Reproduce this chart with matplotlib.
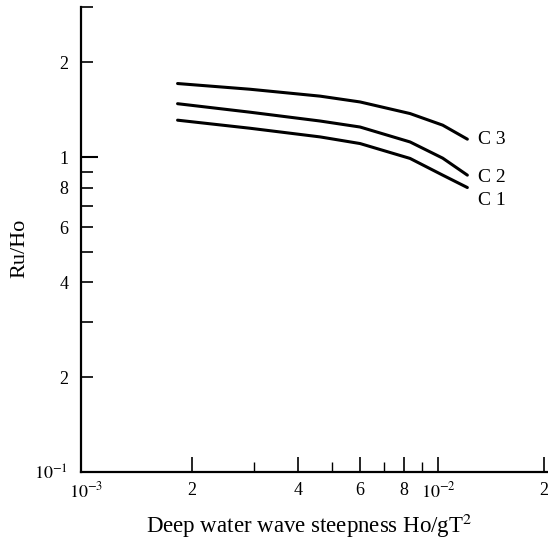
import matplotlib
matplotlib.use("Agg")
import matplotlib.pyplot as plt
from matplotlib.ticker import FixedLocator, FixedFormatter, NullFormatter

plt.rcParams["font.family"] = ["Liberation Serif", "DejaVu Serif"]
plt.rcParams["mathtext.fontset"] = "stix"

steepness = [0.00182, 0.00292, 0.00462, 0.0060, 0.00832, 0.0103, 0.0121]
c3 = [1.714, 1.644, 1.563, 1.498, 1.376, 1.264, 1.141]
c2 = [1.479, 1.390, 1.303, 1.247, 1.118, 0.993, 0.877]
c1 = [1.311, 1.236, 1.160, 1.105, 0.991, 0.877, 0.801]
curve_names = ["C 3", "C 2", "C 1"]

x_major = [0.001, 0.002, 0.004, 0.006, 0.008, 0.01, 0.02]
x_major_labels = ["$10^{-3}$", "2", "4", "6", "8", "$10^{-2}$", "2"]
x_minor = [0.003, 0.005, 0.007, 0.009]

y_major = [1.0]
y_major_labels = ["1"]
y_minor = [0.1, 0.2, 0.3, 0.4, 0.5, 0.6, 0.7, 0.8, 0.9, 2.0, 3.0]
y_minor_labels = ["$10^{-1}$", "2", "", "4", "", "6", "", "8", "", "2", ""]

fig = plt.figure(figsize=(5.48, 5.47), dpi=100)
ax = fig.add_axes([81 / 548, 75 / 547, 467 / 548, 465 / 547])
ax.set_xscale("log")
ax.set_yscale("log")

for vals in (c3, c2, c1):
    ax.plot(steepness, vals, color="black", lw=2.2,
            solid_capstyle="round", solid_joinstyle="round")

offsets = [(8, 0), (8, -2), (8, -9)]
for name, vals, off in zip(curve_names, (c3, c2, c1), offsets):
    ax.annotate(name, xy=(steepness[-1], vals[-1]), xytext=off,
                textcoords="offset points", fontsize=14, va="center", ha="left")

ax.set_xlim(0.000968, 0.0205)
ax.set_ylim(0.1, 3.0)

ax.xaxis.set_major_locator(FixedLocator(x_major))
ax.xaxis.set_major_formatter(FixedFormatter(x_major_labels))
ax.xaxis.set_minor_locator(FixedLocator(x_minor))
ax.xaxis.set_minor_formatter(NullFormatter())

ax.yaxis.set_major_locator(FixedLocator(y_major))
ax.yaxis.set_major_formatter(FixedFormatter(y_major_labels))
ax.yaxis.set_minor_locator(FixedLocator(y_minor))
ax.yaxis.set_minor_formatter(FixedFormatter(y_minor_labels))

ax.tick_params(axis="x", which="major", direction="in", length=11, width=1.2,
               pad=7, labelsize=13)
ax.tick_params(axis="x", which="minor", direction="in", length=7, width=1.0)
ax.tick_params(axis="y", which="major", direction="in", length=12, width=1.5,
               pad=9, labelsize=13)
ax.tick_params(axis="y", which="minor", direction="in", length=8.5, width=1.2,
               pad=9, labelsize=13)

# no tick mark at the 10^-3 end, only its label
ax.xaxis.get_major_ticks()[0].tick1line.set_visible(False)

for side in ("top", "right"):
    ax.spines[side].set_visible(False)
for side in ("left", "bottom"):
    ax.spines[side].set_linewidth(1.6)

ax.set_xlabel("Deep water wave steepness Ho/gT$^{2}$", fontsize=16.5)
ax.xaxis.label.set_va("center")
ax.xaxis.set_label_coords(0.488, -0.116)
ax.set_ylabel("Ru/Ho", fontsize=16)
ax.yaxis.label.set_va("center")
ax.yaxis.set_label_coords(-0.131, 0.48)

fig.savefig("out.png", dpi=100)
